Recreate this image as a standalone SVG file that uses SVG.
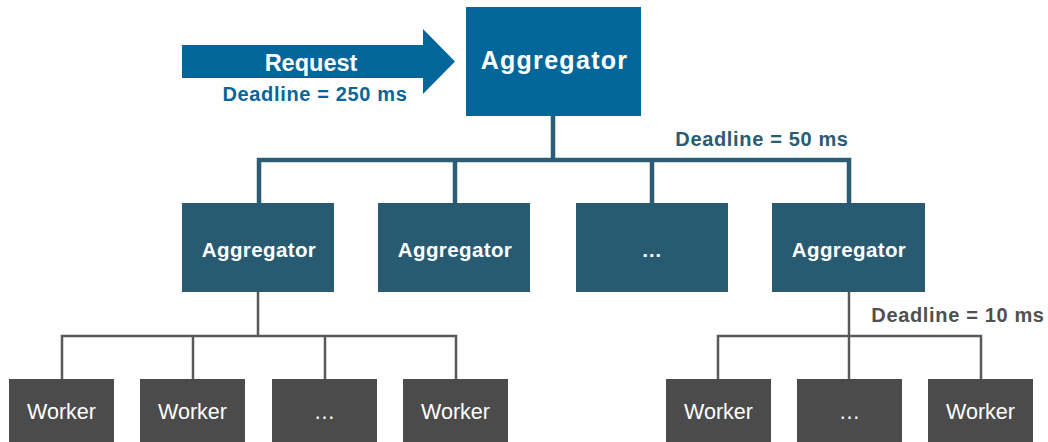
<svg xmlns="http://www.w3.org/2000/svg" width="1048" height="442" viewBox="0 0 1048 442">
<style>
text{font-family:"Liberation Sans",Arial,sans-serif;text-anchor:middle}
.top{fill:#03669a}
.mid{fill:#285b72}
.wk{fill:#4b4b4b}
.bt{fill:#fff;font-weight:bold}
.wt{fill:#fff;font-size:21.5px}
.mt{font-size:20.5px;letter-spacing:0.4px}
.dl{font-weight:bold;font-size:20px;letter-spacing:0.65px}
.c1{fill:none;stroke:#2b5d75;stroke-width:4.5;stroke-linejoin:miter}
.c2{fill:none;stroke:#595959;stroke-width:2.5;stroke-linejoin:miter}
</style>
<rect width="1048" height="442" fill="#fff"/>
<g id="connectors">
<path class="c1" d="M553,116V160"/>
<path class="c1" d="M259,203V160H849V203"/>
<path class="c1" d="M455,160V203"/>
<path class="c1" d="M652,160V203"/>
<path class="c2" d="M258,292V336"/>
<path class="c2" d="M62,379V336H456V379"/>
<path class="c2" d="M193,336V379"/>
<path class="c2" d="M325,336V379"/>
<path class="c2" d="M849,292V379"/>
<path class="c2" d="M718,379V336H981V379"/>
</g>
<g id="request">
<polygon class="top" points="182,45 423,45 423,29 455,61.5 423,94 423,78 182,78"/>
<text class="bt" x="311" y="71" font-size="23.5">Request</text>
<text class="dl" x="315" y="101" fill="#07659a">Deadline = 250 ms</text>
</g>
<g id="agg-top">
<rect class="top" x="466" y="7" width="175" height="109"/>
<text class="bt" x="554.5" y="69" font-size="25" letter-spacing="1.3">Aggregator</text>
</g>
<text class="dl" x="762" y="146" fill="#2b5b72">Deadline = 50 ms</text>
<g id="agg-1">
<rect class="mid" x="182" y="203" width="152" height="89"/>
<text class="bt mt" x="259" y="256.5">Aggregator</text>
</g>
<g id="agg-2">
<rect class="mid" x="378" y="203" width="152" height="89"/>
<text class="bt mt" x="455" y="256.5">Aggregator</text>
</g>
<g id="agg-3">
<rect class="mid" x="576" y="203" width="152" height="89"/>
<text class="bt mt" x="652" y="256.5">…</text>
</g>
<g id="agg-4">
<rect class="mid" x="772" y="203" width="153" height="89"/>
<text class="bt mt" x="849" y="256.5">Aggregator</text>
</g>
<text class="dl" x="958" y="321.5" fill="#505050">Deadline = 10 ms</text>
<g id="w1"><rect class="wk" x="9" y="379" width="105" height="66"/><text class="wt" x="61.5" y="418.5">Worker</text></g>
<g id="w2"><rect class="wk" x="140" y="379" width="105" height="66"/><text class="wt" x="192.5" y="418.5">Worker</text></g>
<g id="w3"><rect class="wk" x="272" y="379" width="105" height="66"/><text class="wt" x="324.5" y="418.5">…</text></g>
<g id="w4"><rect class="wk" x="403" y="379" width="105" height="66"/><text class="wt" x="455.5" y="418.5">Worker</text></g>
<g id="w5"><rect class="wk" x="666" y="379" width="105" height="66"/><text class="wt" x="718.5" y="418.5">Worker</text></g>
<g id="w6"><rect class="wk" x="797" y="379" width="105" height="66"/><text class="wt" x="849.5" y="418.5">…</text></g>
<g id="w7"><rect class="wk" x="928" y="379" width="105" height="66"/><text class="wt" x="980.5" y="418.5">Worker</text></g>
</svg>
